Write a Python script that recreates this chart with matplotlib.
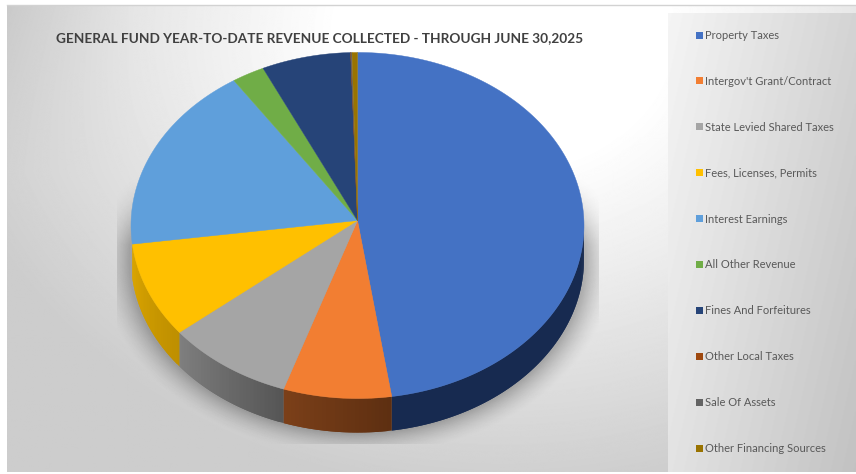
import matplotlib
matplotlib.use("Agg")
import matplotlib.pyplot as plt
import numpy as np
from matplotlib.colors import to_rgb
from matplotlib.patches import Rectangle

plt.rcParams["font.family"] = ["Lato", "DejaVu Sans"]

TITLE = "GENERAL FUND YEAR-TO-DATE REVENUE COLLECTED - THROUGH JUNE 30,2025"

categories = [
    "Property Taxes",
    "Intergov't Grant/Contract",
    "State Levied Shared Taxes",
    "Fees, Licenses, Permits",
    "Interest Earnings",
    "All Other Revenue",
    "Fines And Forfeitures",
    "Other Local Taxes",
    "Sale Of Assets",
    "Other Financing Sources",
]
shares = [47.7, 7.5, 8.9, 8.8, 17.75, 2.4, 6.55, 0.02, 0.08, 0.4]
colors = ["#4472C4", "#F27E32", "#A5A5A5", "#FFC000", "#5F9FDB",
          "#70AD47", "#264478", "#9E480E", "#636363", "#997300"]
# rim shading, (left end, right end) of each wedge's side wall
rim_colors = {
    0: ("#172A50", "#172A50"),
    1: ("#7C4019", "#5E2F11"),
    2: ("#808080", "#565656"),
    3: ("#DCA600", "#BE8F00"),
}

W, H = 856, 474

# tilted disc, the far side is a little smaller than the near side
CX, CY = 357.5, 220.5
RX, RY = 226.4, 172.9
PERSP = 0.0289
DEPTH = 34.0


def disc(theta):
    """Clockwise angle from 12 o'clock to pixel position on the top face."""
    u, v = np.sin(theta), np.cos(theta)
    w = 1 + PERSP * v
    return CX + RX * u / w, CY - RY * v / w


def background():
    yy, xx = np.mgrid[0:H, 0:W] + 0.5
    t = np.hypot((xx - 500) / 640, (yy - 30) / 520)
    grey = 255 - 46 * np.clip((t - 0.26) / 0.58, 0, 1.1)
    grey -= 12 * np.clip((130 - xx) / 130, 0, 1) * np.clip((170 - yy) / 170, 0, 1)
    return np.clip(grey, 0, 255) / 255


def shadow():
    """Soft grey halo round the disc, cut off at a box as office charts do."""
    yy, xx = np.mgrid[0:H, 0:W] + 0.5
    ex = (xx - CX) / (RX + 2)
    ey = (yy - (CY + 5 + DEPTH)) / (RY + 1)
    dist = (np.hypot(ex, ey) - 1) * RY
    alpha = 0.26 * np.clip(1 - dist / 23, 0, 1) ** 1.6
    alpha *= (xx > 117) & (xx < 599) & (yy < 444)
    alpha *= np.clip((yy - 175) / 70, 0, 1)
    rgba = np.zeros((H, W, 4))
    rgba[..., 3] = alpha
    return rgba


fig = plt.figure(figsize=(W / 100, H / 100), dpi=100, facecolor="white")
ax = fig.add_axes([0, 0, 1, 1])

ax.imshow(background(), cmap="gray", vmin=0, vmax=1, extent=(7, W, 472, 5),
          aspect="auto", interpolation="bilinear", zorder=0)
ax.imshow(shadow(), extent=(0, W, H, 0), aspect="auto", zorder=1)
ax.plot([7, W], [4.6, 4.6], color="#d2d2d2", lw=1, zorder=1)

# wedge limits from the shares
fractions = np.array(shares) / np.sum(shares)
edges = np.concatenate([[0], np.cumsum(fractions)]) * 2 * np.pi

# side wall first, only the near half of the disc shows it
for i, (start, stop) in enumerate(zip(edges[:-1], edges[1:])):
    lo, hi = max(start, np.pi / 2), min(stop, 3 * np.pi / 2)
    if hi <= lo or i not in rim_colors:
        continue
    right, left = (np.array(to_rgb(c)) for c in rim_colors[i][::-1])
    steps = np.linspace(lo, hi, max(int((hi - lo) * 60), 2))
    # each strip runs on under the next one so no seams show
    for j, (a, b) in enumerate(zip(steps[:-1], steps[1:])):
        f = (a - lo) / (hi - lo)
        shade = right * (1 - f) + left * f
        b = steps[min(j + 2, len(steps) - 1)]
        arc = np.linspace(a, b, 6)
        px, py = disc(arc)
        ax.fill(np.r_[px, px[::-1]], np.r_[py, py[::-1] + DEPTH],
                color=shade, lw=0, zorder=2)

# top face
for color, start, stop in zip(colors, edges[:-1], edges[1:]):
    theta = np.linspace(start, stop, max(int((stop - start) * 80), 2))
    px, py = disc(theta)
    ax.fill(np.r_[CX, px], np.r_[CY, py], color=color, lw=0.3, zorder=3)

ax.text(56, 38, TITLE, fontsize=9.8, fontweight="bold", color="#404040",
        ha="left", va="center", zorder=5)

# legend column has its own panel
yy, xx = np.mgrid[0:459, 0:188] + 0.5
panel = 0.96 - 0.13 * (xx / 188) - 0.07 * (yy / 459)
ax.imshow(panel, cmap="gray", vmin=0, vmax=1, extent=(668, W, 472, 13),
          aspect="auto", zorder=1)

for i, (name, color) in enumerate(zip(categories, colors)):
    y = 35 + i * 45.9
    ax.add_patch(Rectangle((696, y - 3.5), 7, 7, color=color, lw=0, zorder=5))
    ax.text(705.5, y + 0.4, name, fontsize=8.05, color="#595959", ha="left",
            va="center", zorder=5)

ax.set_xlim(0, W)
ax.set_ylim(H, 0)
ax.axis("off")

fig.savefig("out.png", dpi=100)
